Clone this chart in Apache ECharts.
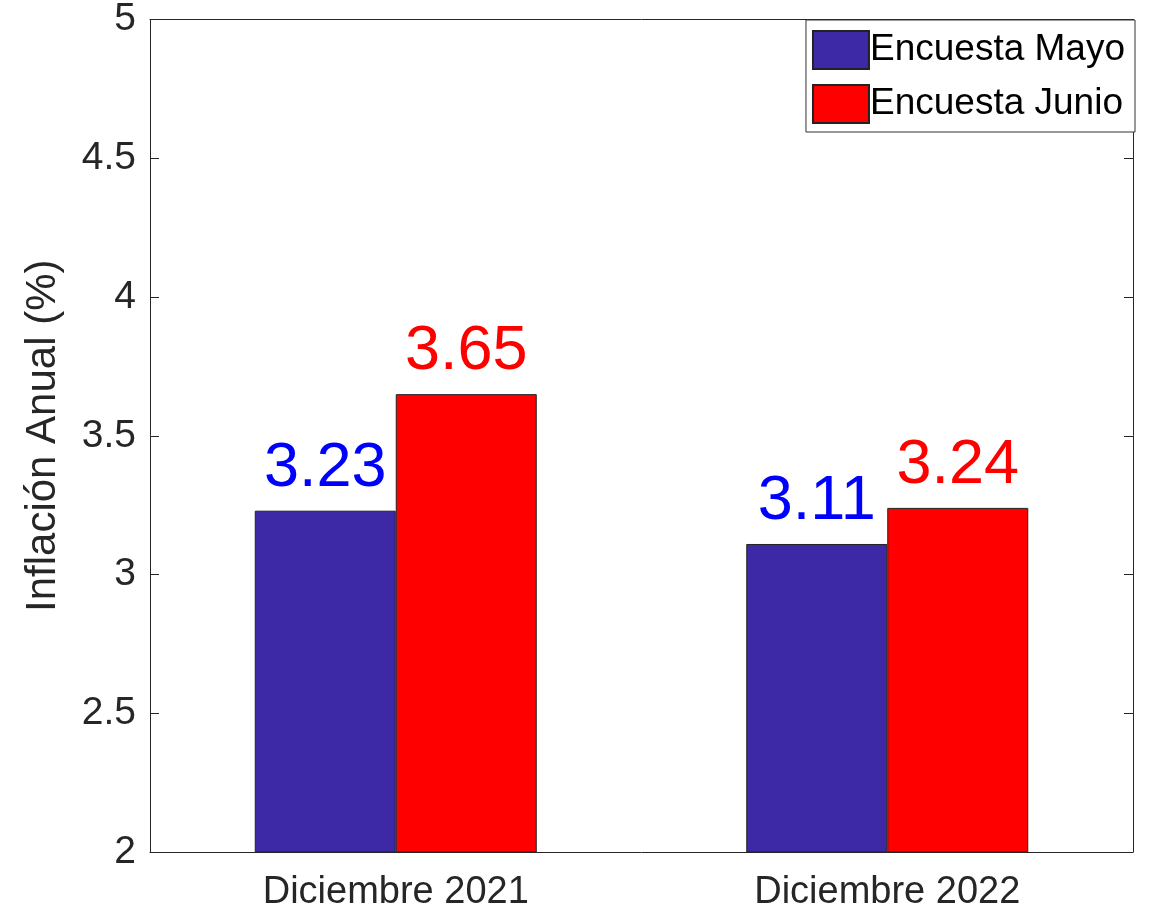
<!DOCTYPE html>
<html>
<head>
<meta charset="utf-8">
<script src="https://cdn.jsdelivr.net/npm/echarts@6/dist/echarts.min.js"></script>
<style>
html,body{margin:0;padding:0;background:#fff;}
#chart{width:1150px;height:914px;}
</style>
</head>
<body>
<div id="chart"></div>
<script>
const categories = ['Diciembre 2021', 'Diciembre 2022'];
const seriesNames = ['Encuesta Mayo', 'Encuesta Junio'];
const mayoValues = [3.23, 3.11];
const junioValues = [3.65, 3.24];

const FONT = '"Liberation Sans", Arial, Helvetica, sans-serif';
const axisColor = '#262626';

const chart = echarts.init(document.getElementById('chart'), null, {renderer: 'canvas'});

function barSeries(name, data, fill, labelColor) {
  return {
    name: name,
    type: 'bar',
    data: data,
    barWidth: 141,
    barGap: '0%',
    itemStyle: {color: fill, borderColor: '#222', borderWidth: 1},
    label: {
      show: true,
      position: 'top',
      distance: 11,
      color: labelColor,
      fontFamily: FONT,
      fontSize: 63,
      formatter: p => p.value.toFixed(2)
    },
    emphasis: {disabled: true},
    animation: false
  };
}

chart.setOption({
  backgroundColor: '#fff',
  animation: false,
  grid: {left: 150, right: 17, top: 19, bottom: 62},
  legend: {
    orient: 'vertical',
    right: 15,
    top: 20,
    padding: [10, 10, 8, 6],
    itemWidth: 56,
    itemHeight: 38,
    itemGap: 14,
    icon: 'rect',
    backgroundColor: '#fff',
    borderColor: '#333',
    borderWidth: 1,
    textStyle: {fontFamily: FONT, fontSize: 37, color: '#000', padding: [0, 0, 0, -4]},
    data: seriesNames
  },
  xAxis: [{
    type: 'category',
    data: categories,
    position: 'bottom',
    axisLine: {show: true, lineStyle: {color: axisColor, width: 1}},
    axisTick: {show: false},
    axisLabel: {fontFamily: FONT, fontSize: 38, color: axisColor, margin: 22}
  }, {
    type: 'category',
    data: categories,
    position: 'top',
    axisLine: {show: true, lineStyle: {color: axisColor, width: 1}},
    axisTick: {show: false},
    axisLabel: {show: false}
  }],
  yAxis: [{
    type: 'value',
    min: 2,
    max: 5,
    interval: 0.5,
    position: 'left',
    name: 'Inflación Anual (%)',
    nameLocation: 'middle',
    nameGap: 86,
    nameTextStyle: {fontFamily: FONT, fontSize: 42, color: axisColor},
    axisLine: {show: true, lineStyle: {color: axisColor, width: 1}},
    axisTick: {show: true, inside: true, length: 9, lineStyle: {color: axisColor}},
    axisLabel: {fontFamily: FONT, fontSize: 39, color: axisColor, margin: 14},
    splitLine: {show: false}
  }, {
    type: 'value',
    min: 2,
    max: 5,
    interval: 0.5,
    position: 'right',
    axisLine: {show: true, lineStyle: {color: axisColor, width: 1}},
    axisTick: {show: true, inside: true, length: 9, lineStyle: {color: axisColor}},
    axisLabel: {show: false},
    splitLine: {show: false}
  }],
  series: [
    barSeries(seriesNames[0], mayoValues, '#3d28a5', '#0000ff'),
    barSeries(seriesNames[1], junioValues, '#ff0000', '#ff0000')
  ]
});
</script>
</body>
</html>
